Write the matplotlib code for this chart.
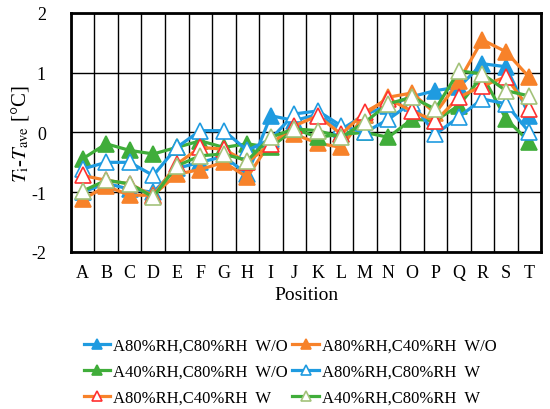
import matplotlib
matplotlib.use("Agg")
import matplotlib.pyplot as plt
import numpy as np

plt.rcParams['font.family'] = ['Liberation Serif', 'DejaVu Serif']
plt.rcParams['mathtext.fontset'] = 'stix'
plt.rcParams['axes.unicode_minus'] = False

# Datos
positions = list("ABCDEFGHIJKLMNOPQRST")
a80c80_wo = [-1.0, -0.85, -0.95, -1.0, -0.6, -0.5, -0.4, -0.7, 0.28, 0.2,
             0.3, 0.05, 0.3, 0.45, 0.6, 0.7, 0.76, 1.15, 1.1, 0.28]
a80c40_wo = [-1.12, -0.9, -1.05, -1.05, -0.7, -0.62, -0.5, -0.75, -0.15, -0.03,
             -0.18, -0.25, 0.3, 0.59, 0.66, 0.32, 0.86, 1.55, 1.35, 0.92]
a40c80_wo = [-0.44, -0.19, -0.3, -0.36, -0.25, -0.14, -0.25, -0.19, -0.25, 0.06,
             -0.08, -0.03, 0.0, -0.08, 0.22, 0.2, 0.45, 0.95, 0.23, -0.16]
a80c80_w = [-0.61, -0.5, -0.5, -0.72, -0.25, 0.03, 0.03, -0.3, -0.11, 0.31,
            0.36, 0.11, 0.0, 0.22, 0.5, -0.03, 0.26, 0.56, 0.48, 0.0]
a80c40_w = [-0.72, -0.8, -0.86, -1.06, -0.53, -0.25, -0.28, -0.5, -0.19, 0.11,
            0.28, -0.03, 0.34, 0.56, 0.36, 0.19, 0.59, 0.78, 0.93, 0.39]
a40c80_w = [-0.98, -0.8, -0.86, -1.08, -0.56, -0.39, -0.36, -0.47, -0.08, 0.06,
            0.03, -0.08, 0.17, 0.48, 0.59, 0.39, 1.03, 0.98, 0.7, 0.61]

blue = '#1f9be0'
orange = '#f7822a'
green = '#40ad3a'
red = '#ff3030'
lightgreen = '#a3c27a'

fig = plt.figure(figsize=(5.5, 4.1), dpi=100)
ax = fig.add_axes([0.129, 0.383, 0.855, 0.583])
x = np.arange(len(positions))

series = [
    ("A80%RH,C80%RH  W/O", a80c80_wo, blue, blue, blue),
    ("A80%RH,C40%RH  W/O", a80c40_wo, orange, orange, orange),
    ("A40%RH,C80%RH  W/O", a40c80_wo, green, green, green),
    ("A80%RH,C80%RH  W", a80c80_w, blue, 'white', blue),
    ("A80%RH,C40%RH  W", a80c40_w, orange, 'white', red),
    ("A40%RH,C80%RH  W", a40c80_w, green, 'white', lightgreen),
]
handles = []
for label, vals, lc, fc, ec in series:
    h, = ax.plot(x, vals, color=lc, lw=2.3, marker='^', markersize=11,
                 markerfacecolor=fc, markeredgecolor=ec, markeredgewidth=1.2,
                 label=label)
    handles.append(h)

ax.set_xlim(-0.5, len(positions) - 0.5)
ax.set_ylim(-2, 2)
ax.set_yticks([-2, -1, 0, 1, 2])
ax.set_xticks(x)
ax.set_xticklabels(positions)
ax.set_xticks(np.arange(-0.5, len(positions)), minor=True)
ax.tick_params(axis='both', which='both', length=0, labelsize=13)
ax.tick_params(axis='x', pad=9)
ax.tick_params(axis='y', pad=18)
ax.grid(True, axis='x', which='minor', color='black', lw=1)
ax.grid(True, axis='y', which='major', color='black', lw=1)
for s in ax.spines.values():
    s.set_linewidth(2)
ax.set_axisbelow(True)

ax.set_xlabel("Position", fontsize=14, labelpad=3)
ax.set_ylabel(r"$T_{\rm i}$-$T_{\rm ave}$ [°C]", fontsize=15, labelpad=0)

# orden por columnas para que las filas queden como en el original
order = [0, 2, 4, 1, 3, 5]
fig.legend([handles[i] for i in order], [series[i][0] for i in order],
           ncol=2, loc='upper left', bbox_to_anchor=(0.14, 0.19),
           frameon=False, fontsize=12, handlelength=1.6, handletextpad=0.15,
           columnspacing=0.3, labelspacing=0.6, borderaxespad=0,
           markerscale=0.6)

fig.savefig("out.png", dpi=100)
